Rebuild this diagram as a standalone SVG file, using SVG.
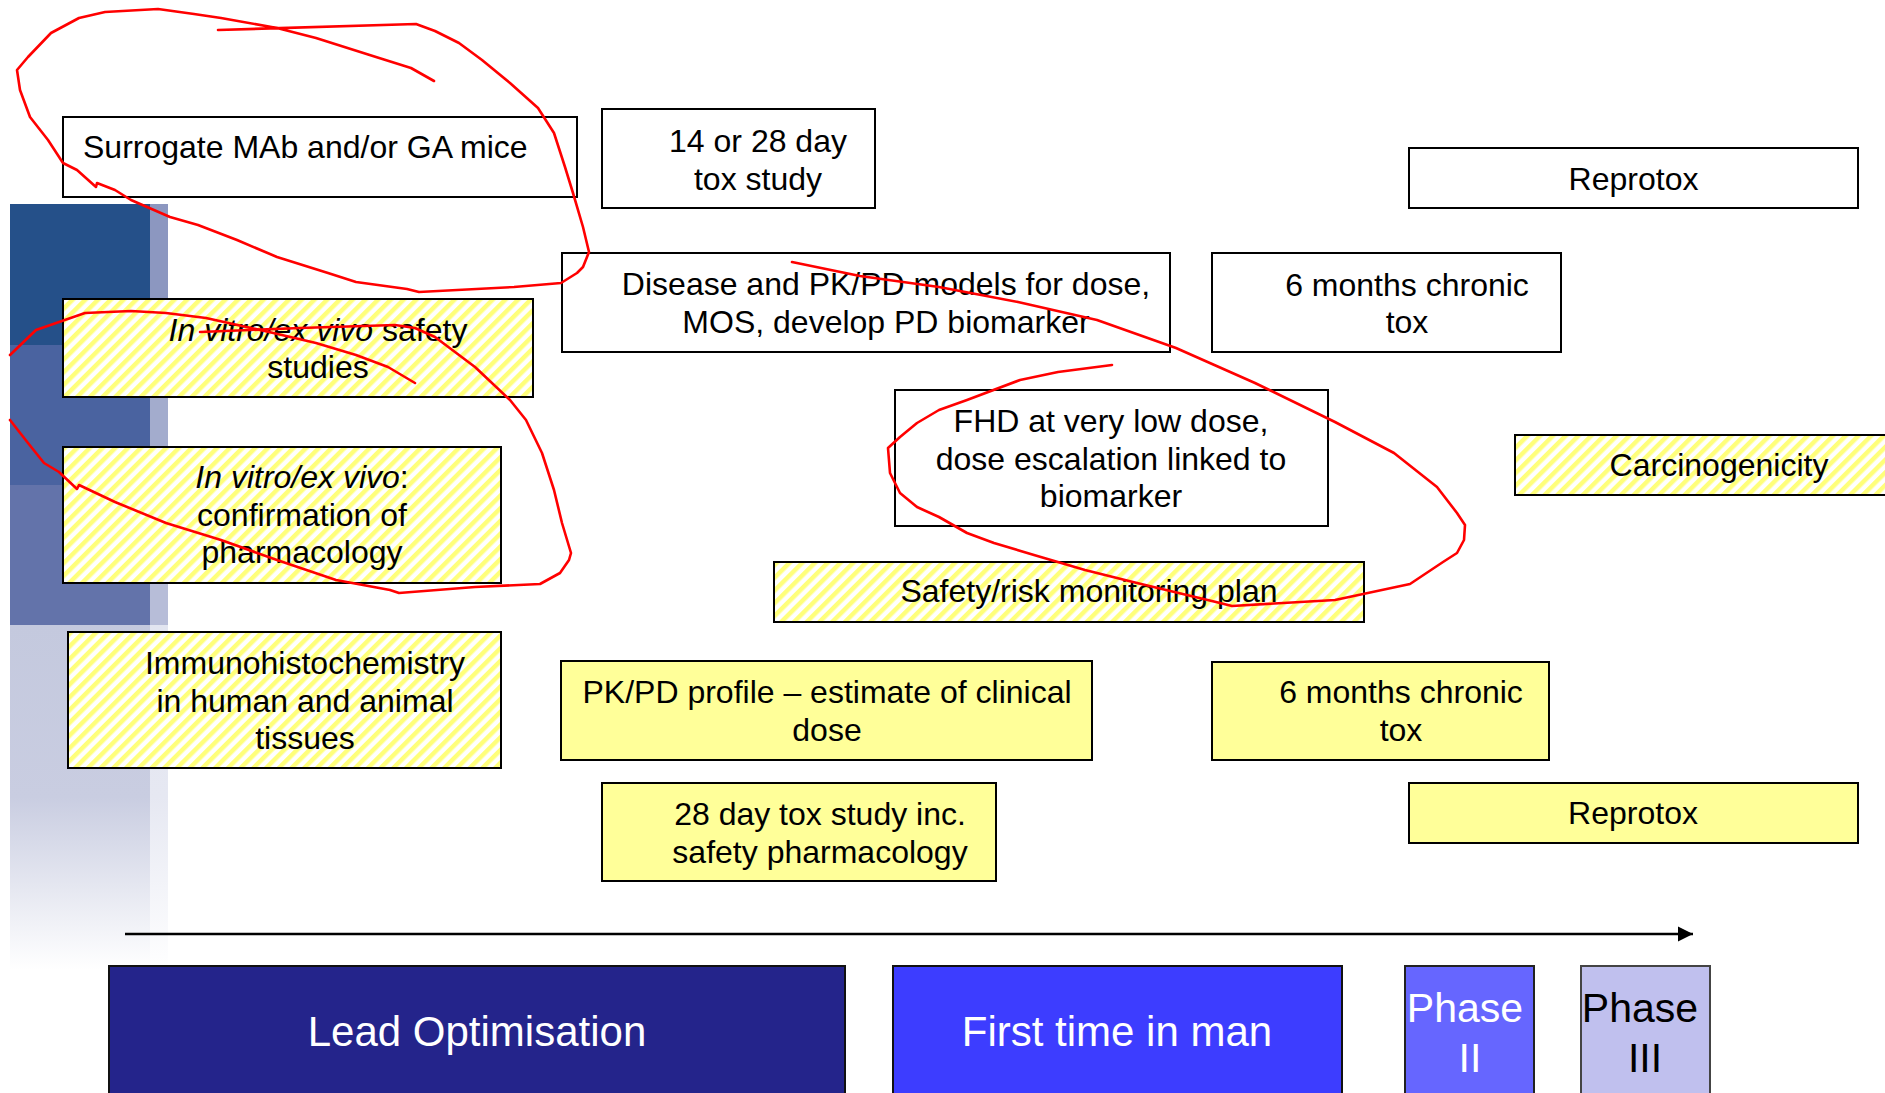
<svg xmlns="http://www.w3.org/2000/svg" width="1885" height="1093" viewBox="0 0 1885 1093">
<defs>
<style>
.box{stroke:#000;stroke-width:2}
.white{fill:#fff}
.yellow{fill:#ffff99}
.hatch{fill:url(#hatch)}
.t{font-family:"Liberation Sans",Arial,sans-serif;font-size:32px;fill:#000;text-anchor:middle}
.big{font-family:"Liberation Sans",Arial,sans-serif;font-size:42px;text-anchor:middle}
.red{fill:none;stroke:#ff0000;stroke-width:2.6;stroke-linejoin:round;stroke-linecap:round}
.it{font-style:italic}
</style>
<pattern id="hatch" patternUnits="userSpaceOnUse" width="9" height="9" patternTransform="rotate(45)">
<rect width="9" height="9" fill="#fff"/>
<rect width="4.5" height="9" fill="#ffff7a"/>
</pattern>
<linearGradient id="fadeMain" x1="0" y1="0" x2="0" y2="1">
<stop offset="0" stop-color="#c4c9de"/>
<stop offset="0.5" stop-color="#c9cde1"/>
<stop offset="1" stop-color="#ffffff"/>
</linearGradient>
<linearGradient id="fadeStrip" x1="0" y1="0" x2="0" y2="1">
<stop offset="0" stop-color="#e2e5f0"/>
<stop offset="0.5" stop-color="#e6e8f2"/>
<stop offset="1" stop-color="#ffffff"/>
</linearGradient>
<marker id="arrow" markerUnits="userSpaceOnUse" markerWidth="16" markerHeight="16" refX="15" refY="8" orient="auto">
<path d="M0,0.5 L15,8 L0,15.5 Z" fill="#000"/>
</marker>
</defs>

<rect width="1885" height="1093" fill="#fff"/>

<g id="side-panel">
<rect x="10" y="204" width="140" height="141" fill="#255089"/>
<rect x="10" y="345" width="140" height="140" fill="#4a63a0"/>
<rect x="10" y="485" width="140" height="140" fill="#6373aa"/>
<rect x="10" y="625" width="140" height="345" fill="url(#fadeMain)"/>
<rect x="150" y="204" width="18" height="141" fill="#8c97c0"/>
<rect x="150" y="345" width="18" height="140" fill="#a3accd"/>
<rect x="150" y="485" width="18" height="140" fill="#b7bdd8"/>
<rect x="150" y="625" width="18" height="345" fill="url(#fadeStrip)"/>
</g>

<g id="surrogate">
<rect class="box white" x="63" y="117" width="514" height="80"/>
<text class="t" x="83" y="158" style="text-anchor:start">Surrogate MAb and/or GA mice</text>
</g>

<g id="tox14-28">
<rect class="box white" x="602" y="109" width="273" height="99"/>
<text class="t" x="758" y="151.5">14 or 28 day</text>
<text class="t" x="758" y="189.5">tox study</text>
</g>

<g id="reprotox-top">
<rect class="box white" x="1409" y="148" width="449" height="60"/>
<text class="t" x="1633.5" y="190">Reprotox</text>
</g>

<g id="disease-models">
<rect class="box white" x="562" y="253" width="608" height="99"/>
<text class="t" x="886" y="295">Disease and PK/PD models for dose,</text>
<text class="t" x="886" y="333">MOS, develop PD biomarker</text>
</g>

<g id="chronic-top">
<rect class="box white" x="1212" y="253" width="349" height="99"/>
<text class="t" x="1407" y="296">6 months chronic</text>
<text class="t" x="1407" y="333">tox</text>
</g>

<g id="invitro-safety">
<rect class="box hatch" x="63" y="299" width="470" height="98"/>
<text class="t" x="318" y="341"><tspan class="it">In vitro/ex vivo</tspan> safety</text>
<text class="t" x="318" y="378">studies</text>
</g>

<g id="fhd">
<rect class="box white" x="895" y="390" width="433" height="136"/>
<text class="t" x="1111" y="432">FHD at very low dose,</text>
<text class="t" x="1111" y="469.5">dose escalation linked to</text>
<text class="t" x="1111" y="507">biomarker</text>
</g>

<g id="carcinogenicity">
<rect class="box hatch" x="1515" y="435" width="400" height="60"/>
<text class="t" x="1719" y="476">Carcinogenicity</text>
</g>

<g id="invitro-pharmacology">
<rect class="box hatch" x="63" y="447" width="438" height="136"/>
<text class="t" x="302" y="488"><tspan class="it">In vitro/ex vivo</tspan>:</text>
<text class="t" x="302" y="526">confirmation of</text>
<text class="t" x="302" y="563">pharmacology</text>
</g>

<g id="safety-plan">
<rect class="box hatch" x="774" y="562" width="590" height="60"/>
<text class="t" x="1089" y="602">Safety/risk monitoring plan</text>
</g>

<g id="immuno">
<rect class="box hatch" x="68" y="632" width="433" height="136"/>
<text class="t" x="305" y="674">Immunohistochemistry</text>
<text class="t" x="305" y="712">in human and animal</text>
<text class="t" x="305" y="749">tissues</text>
</g>

<g id="pkpd-profile">
<rect class="box yellow" x="561" y="661" width="531" height="99"/>
<text class="t" x="827" y="703">PK/PD profile – estimate of clinical</text>
<text class="t" x="827" y="741">dose</text>
</g>

<g id="chronic-bottom">
<rect class="box yellow" x="1212" y="662" width="337" height="98"/>
<text class="t" x="1401" y="703">6 months chronic</text>
<text class="t" x="1401" y="741">tox</text>
</g>

<g id="tox28">
<rect class="box yellow" x="602" y="783" width="394" height="98"/>
<text class="t" x="820" y="825">28 day tox study inc.</text>
<text class="t" x="820" y="863">safety pharmacology</text>
</g>

<g id="reprotox-bottom">
<rect class="box yellow" x="1409" y="783" width="449" height="60"/>
<text class="t" x="1633" y="824">Reprotox</text>
</g>

<g id="connectors">
<line x1="125" y1="934" x2="1693" y2="934" stroke="#000" stroke-width="2.5" marker-end="url(#arrow)"/>
</g>

<g id="lead-optimisation">
<rect x="109" y="966" width="736" height="140" fill="#24248b" stroke="#111" stroke-width="2"/>
<text class="big" x="477" y="1046" fill="#fff">Lead Optimisation</text>
</g>

<g id="first-time-in-man">
<rect x="893" y="966" width="449" height="140" fill="#3d3dff" stroke="#111" stroke-width="2"/>
<text class="big" x="1117" y="1046" fill="#fff">First time in man</text>
</g>

<g id="phase-2">
<rect x="1405" y="966" width="129" height="140" fill="#6666ff" stroke="#222" stroke-width="2"/>
<text class="big" x="1465" y="1022" fill="#fff" style="font-size:41px">Phase</text>
<text class="big" x="1470" y="1072" fill="#fff" style="font-size:41px">II</text>
</g>

<g id="phase-3">
<rect x="1581" y="966" width="129" height="140" fill="#c0c0ee" stroke="#444" stroke-width="2"/>
<text class="big" x="1640" y="1022" fill="#000" style="font-size:41px">Phase</text>
<text class="big" x="1645" y="1072" fill="#000" style="font-size:41px">III</text>
</g>

<g id="annotations">
<path class="red" d="M218,30 L416,24 L435,31 L459,43 L482,60 L510,83 L538,108 L554,133 L565,167 L573,193 L583,227 L589,252 L583,267 L577,273 L561,283 L514,287 L419,292 L407,289 L356,282 L328,273 L277,257 L237,240 L198,225 L170,217 L131,200 L115,190 L97,183 L96,187 L77,170 L63,163 L48,140 L30,117 L20,90 L17,70 L28,57 L51,33 L79,18 L105,12 L158,9 L194,14 L221,18 L277,28 L316,38 L376,57 L411,68 L434,81"/>
<path class="red" d="M10,355 L36,330 L85,313 L131,311 L166,313 L206,318 L269,332 L316,343 L356,355 L388,367 L415,383"/>
<path class="red" d="M200,332 L300,328 L395,325 L415,328 L435,337 L475,367 L510,400 L526,420 L542,453 L554,490 L562,523 L571,553 L569,560 L560,573 L540,584 L475,587 L399,593 L390,590 L336,580 L277,560 L221,540 L166,523 L115,502 L79,485 L77,489 L59,472 L44,463 L28,443 L10,420"/>
<path class="red" d="M792,262 L860,276 L939,287 L1018,302 L1097,320 L1176,348 L1255,383 L1335,422 L1394,453 L1437,487 L1457,513 L1465,525 L1464,540 L1457,553 L1443,562 L1410,584 L1335,600 L1232,606 L1216,602 L1137,583 L1085,570 L1034,555 L994,543 L967,533 L939,517 L917,507 L900,493 L890,473 L888,448 L900,437 L917,423 L939,410 L967,400 L1020,380 L1058,372 L1112,365"/>
</g>
</svg>
